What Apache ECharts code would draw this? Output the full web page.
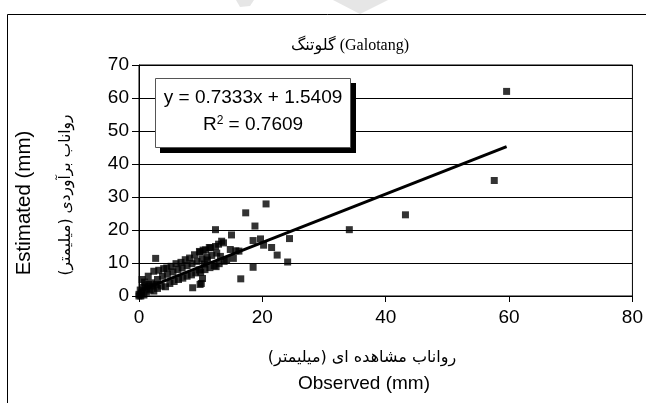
<!DOCTYPE html>
<html>
<head>
<meta charset="utf-8">
<script src="https://cdn.jsdelivr.net/npm/echarts@6/dist/echarts.min.js"></script>
<style>
html,body{margin:0;padding:0;background:#fff;}
#chart{width:646px;height:403px;}
</style>
</head>
<body>
<div id="chart"></div>
<script>
// ---- data ----
var observedX = [
  59.6,57.6,43.2,34.1,24.4,24.1,22.4,21.5,20.6,20.2,19.7,18.8,18.5,18.5,17.3,16.5,16.2,15.7,15.3,15.0,
  14.8,13.7,13.4,12.9,12.5,12.4,11.4,11.1,10.6,10.4,10.3,10.1,9.9,9.8,9.8,8.7,2.7,
  0.5,1.5,2.4,3.2,4.0,4.5,5.2,6.0,6.8,7.5,8.2,9.0,9.9,10.8,11.6,12.4,
  1.0,2.0,3.0,3.8,4.6,5.5,6.3,7.0,7.8,8.6,9.4,10.2,11.0,11.8,12.6,
  0.0,0.4,0.8,1.2,1.8,2.4,3.0,3.6,4.3,5.0,5.7,6.4,7.1,7.8,8.5,9.2,10.0,10.7,11.5,12.2,13.0,13.8,
  0.2,0.6,1.3,0.0,0.3,1.6,2.2,2.8,0.9,14.2,13.2
];
var estimatedY = [
  62.0,35.0,24.6,20.1,17.4,10.3,12.4,14.7,27.9,15.4,17.3,21.2,16.8,8.7,25.2,5.2,13.6,13.7,11.4,18.5,
  14.1,16.1,16.6,15.7,8.9,20.1,14.7,10.9,9.7,13.9,5.3,3.8,3.5,13.5,7.9,2.5,11.4,
  5.0,6.0,7.5,7.8,8.3,8.5,9.0,9.8,10.2,11.0,11.5,12.5,13.3,14.0,14.6,15.0,
  3.0,4.0,5.0,6.0,6.6,7.3,8.0,8.5,9.2,9.8,10.5,11.2,11.8,12.3,13.0,
  0.0,0.8,0.3,1.2,1.8,1.5,2.3,3.0,2.8,3.8,4.4,5.0,5.4,6.0,6.4,7.0,7.2,8.0,8.6,9.2,9.8,10.5,
  1.8,2.6,2.2,0.5,0.0,3.5,3.0,3.5,4.2,11.0,12.0
];
var trendSlope = 0.7333;
var trendIntercept = 1.5409;
var trendRangeX = [0, 59.6];
var xTicks = [0, 20, 40, 60, 80];
var yTicks = [0, 10, 20, 30, 40, 50, 60, 70];
var titleText = 'گلوتنگ (Galotang)';
var xNameFa = 'رواناب مشاهده ای (میلیمتر)\u200F';
var xNameEn = 'Observed (mm)';
var yNameFa = 'رواناب برآوردی (میلیمتر)\u200F';
var yNameEn = 'Estimated (mm)';
var eqLine1 = 'y = 0.7333x + 1.5409';
var eqR2 = '0.7609';

var points = observedX.map(function (x, i) { return [x, estimatedY[i]]; });
var trend = trendRangeX.map(function (x) { return [x, trendSlope * x + trendIntercept]; });

var chart = echarts.init(document.getElementById('chart'), null, {renderer: 'canvas'});
var axisFont = 'Arial, "Liberation Sans", sans-serif';
chart.setOption({
  animation: false,
  backgroundColor: '#fff',
  grid: {left: 139, right: 10, top: 65, bottom: 107, show: true, borderColor: '#000', borderWidth: 1},
  xAxis: {
    type: 'value', min: xTicks[0], max: xTicks[xTicks.length - 1], interval: 20,
    axisLine: {show: true, lineStyle: {color: '#000', width: 1}},
    axisTick: {show: true, length: 6, lineStyle: {color: '#000'}},
    axisLabel: {color: '#000', fontSize: 19, fontFamily: axisFont, margin: 12},
    splitLine: {show: false}
  },
  yAxis: {
    type: 'value', min: yTicks[0], max: yTicks[yTicks.length - 1], interval: 10,
    axisLine: {show: true, lineStyle: {color: '#000', width: 1}},
    axisTick: {show: true, length: 7, lineStyle: {color: '#000'}},
    axisLabel: {color: '#000', fontSize: 19, fontFamily: axisFont, margin: 10},
    splitLine: {show: true, lineStyle: {color: '#000', width: 1}}
  },
  series: [
    {type: 'scatter', data: points, symbol: 'rect', symbolSize: 7,
     itemStyle: {color: '#000'}, z: 3},
    {type: 'line', data: trend, symbol: 'none', lineStyle: {color: '#000', width: 3}, z: 4}
  ],
  graphic: [
    {type: 'rect', shape: {x: 7.5, y: 14.5, width: 700, height: 500}, style: {fill: 'none', stroke: '#000', lineWidth: 1}, z: -10},
    {type: 'polygon', shape: {points: [[333, 0], [388, 0], [360, 14]]}, style: {fill: '#e6e6e6'}, z: -5},
    {type: 'polygon', shape: {points: [[236, 0], [254, 0], [250, 6], [240, 7]]}, style: {fill: '#e6e6e6'}, z: -5},
    {type: 'text', x: 350, y: 46, style: {text: titleText, fontSize: 16, fontFamily: '"Liberation Serif", "DejaVu Sans", serif', fill: '#000', textAlign: 'center', textVerticalAlign: 'middle'}},
    {type: 'text', x: 24, y: 203, rotation: Math.PI / 2, style: {text: yNameEn, fontSize: 20.5, fontFamily: axisFont, fill: '#000', textAlign: 'center', textVerticalAlign: 'middle'}},
    {type: 'text', x: 66, y: 195, rotation: Math.PI / 2, style: {text: yNameFa, fontSize: 15.5, fontFamily: '"DejaVu Sans", sans-serif', fill: '#000', textAlign: 'center', textVerticalAlign: 'middle'}},
    {type: 'text', x: 362, y: 358, style: {text: xNameFa, fontSize: 16, fontFamily: '"DejaVu Sans", sans-serif', fill: '#000', textAlign: 'center', textVerticalAlign: 'middle'}},
    {type: 'text', x: 364, y: 384, style: {text: xNameEn, fontSize: 19, fontFamily: axisFont, fill: '#000', textAlign: 'center', textVerticalAlign: 'middle'}},
    {type: 'rect', shape: {x: 160, y: 83, width: 196, height: 70}, style: {fill: '#000'}, z: 20},
    {type: 'rect', shape: {x: 155.5, y: 78.5, width: 195, height: 69}, style: {fill: '#fff', stroke: '#555', lineWidth: 1}, z: 21},
    {type: 'text', x: 253, y: 98, z: 22, style: {text: eqLine1, fontSize: 19, fontFamily: axisFont, fill: '#000', textAlign: 'center', textVerticalAlign: 'middle'}},
    {type: 'text', x: 253, y: 125, z: 22, style: {
      text: '{n|R}{s|2}{n| = ' + eqR2 + '}', textAlign: 'center', textVerticalAlign: 'middle',
      rich: {n: {fontSize: 19, fontFamily: axisFont, fill: '#000'}, s: {fontSize: 12, fontFamily: axisFont, fill: '#000', verticalAlign: 'top', padding: [0, 0, 8, 0]}}
    }}
  ]
});
</script>
</body>
</html>
